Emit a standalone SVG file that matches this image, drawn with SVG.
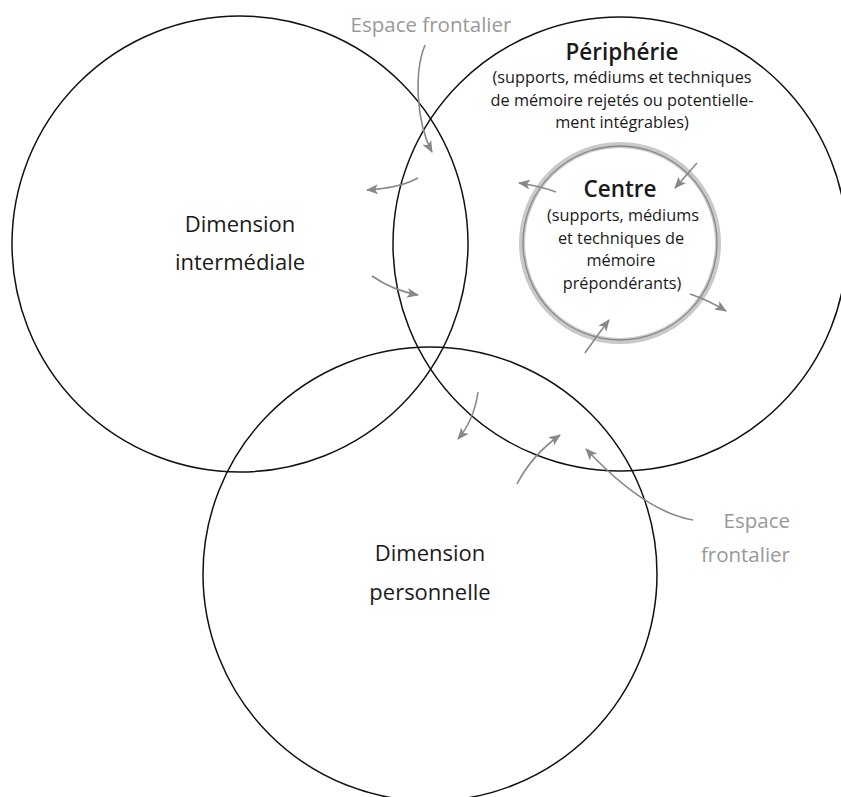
<svg xmlns="http://www.w3.org/2000/svg" width="841" height="797" viewBox="0 0 841 797">
<style>
  .ring { fill: none; stroke: #111; stroke-width: 1.5; }
  .t { font-family: "Open Sans", "Lato", sans-serif; fill: #1a1a1a; text-anchor: middle; font-weight: 400; }
  .big { font-size: 22px; }
  .head { font-size: 22.5px; font-weight: 600; }
  .sub { font-size: 16.3px; }
  .gray { font-family: "Open Sans", "Lato", sans-serif; fill: #999; font-size: 20.5px; font-weight: 400; }
  .arr { fill: none; stroke: #888; stroke-width: 1.6; marker-end: url(#ah); }
</style>
<defs>
  <marker id="ah" viewBox="0 0 12 10" refX="11" refY="5" markerWidth="12" markerHeight="10" markerUnits="userSpaceOnUse" orient="auto">
    <path d="M0,0 L12,5 L0,10 L3,5 z" fill="#888"/>
  </marker>
</defs>
<rect width="841" height="797" fill="#fff"/>

<g id="dimension-intermediale">
  <circle class="ring" cx="240" cy="244" r="228"/>
  <text class="t big" x="240" y="232">Dimension</text>
  <text class="t big" x="240" y="270">intermédiale</text>
</g>

<g id="dimension-personnelle">
  <circle class="ring" cx="430" cy="574" r="227"/>
  <text class="t big" x="430" y="561">Dimension</text>
  <text class="t big" x="430" y="600">personnelle</text>
</g>

<g id="peripherie">
  <circle class="ring" cx="620" cy="244" r="227"/>
  <text class="t head" x="622" y="60">Périphérie</text>
  <text class="t sub" x="622" y="83">(supports, médiums et techniques</text>
  <text class="t sub" x="622" y="106">de mémoire rejetés ou potentielle-</text>
  <text class="t sub" x="622" y="128">ment intégrables)</text>
</g>

<g id="centre">
  <circle cx="620" cy="243" r="98" fill="none" stroke="#c9c9c9" stroke-width="6"/>
  <circle cx="620" cy="243" r="97" fill="none" stroke="#8a8a8a" stroke-width="1.3"/>
  <text class="t head" x="620" y="197">Centre</text>
  <text class="t sub" x="623" y="221">(supports, médiums</text>
  <text class="t sub" x="621" y="244">et techniques de</text>
  <text class="t sub" x="621" y="266">mémoire</text>
  <text class="t sub" x="622" y="289">prépondérants)</text>
</g>

<g id="espace-frontalier-haut">
  <text class="gray" x="431" y="32" text-anchor="middle">Espace frontalier</text>
</g>

<g id="espace-frontalier-bas">
  <text class="gray" x="790" y="528" text-anchor="end">Espace</text>
  <text class="gray" x="790" y="562" text-anchor="end">frontalier</text>
</g>

<g id="connectors">
  <path class="arr" d="M425,45 C414,72 416,122 432,152"/>
  <path class="arr" d="M418,178 Q400,188 367,190"/>
  <path class="arr" d="M372,276 Q392,290 418,295"/>
  <path class="arr" d="M478,392 Q474,420 458,439"/>
  <path class="arr" d="M517,484 Q532,455 560,435"/>
  <path class="arr" d="M693,520 Q645,512 586,449"/>
  <path class="arr" d="M697,163 L675,188"/>
  <path class="arr" d="M556,192 Q540,186 519,183"/>
  <path class="arr" d="M690,294 Q708,300 726,311"/>
  <path class="arr" d="M585,353 Q596,337 609,320"/>
</g>
</svg>
